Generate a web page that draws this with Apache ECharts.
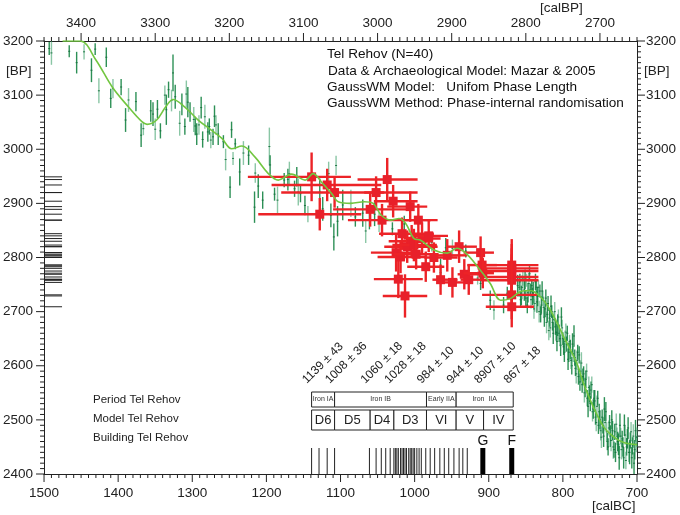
<!DOCTYPE html>
<html><head><meta charset="utf-8">
<script src="https://cdn.jsdelivr.net/npm/echarts@6/dist/echarts.min.js"></script>
<style>html,body{margin:0;padding:0;background:#fff}#c{width:680px;height:515px}</style>
</head><body><div id="c"></div>
<script>
// ---- calibration data (IntCal raw measurements): calBC, BP, 1-sigma ----
const greenBC = [1493,1490,1466,1456,1446,1436,1431,1426,1416,1410,1407,1396,1390,1386,1376,1369,1366,1356,1353,1350,1347,1343,1337,1335,1332,1328,1326,1323,1317,1314,1310,1308,1306,1303,1298,1296,1294,1291,1288,1286,1283,1279,1277,1275,1272,1270,1268,1265,1258,1255,1249,1247,1245,1242,1236,1231,1224,1216,1215,1211,1205,1196,1195,1189,1185,1176,1171,1169,1162,1159,1157,1154,1148,1144,1128,1124,1116,1113,1109,1106,1104,1097,1086,1080,1070,1066,1061,1054,1048,1030,1014,977,965,958,949,931,927,915,911,898,893,880,875,859,
858,856,854,852,850,849,847,845,843,842,840,838,836,834,832,831,829,827,825,824,822,820,818,817,815,813,812,810,808,806,805,803,801,800,798,796,795,793,791,790,788,786,785,783,781,779,778,776,774,772,771,769,767,765,763,762,760,758,756,754,752,751,749,747,745,743,742,740,738,736,734,732,730,729,727,725,723,721,720,718,716,714,712,711,709,707,705,703,702,701,
861,857,855,851,848,846,844,841,839,837,835,833,830,828,826,823,821,819,816,814,811,809,807,804,802,799,797,794,792,789,787,784,782,780,777,775,773,770,768,766,764,761,759,757,755,753,750,748,746,744,741,739,737,735,733,731,728,726,724,722,719,717,715,713,710,708,706,704,700];
const greenBP = [3186,3178,3181,3160,3180,3146,3185,3108,3170,3094,3112,3115,3054,3091,3088,3026,3038,3071,3065,3037,3074,3034,3100,3073,3110,3090,3141,3097,3048,3083,3042,3102,3087,3069,3055,3043,3028,3045,3077,3018,3060,3032,3042,3017,3023,3061,3045,3028,3014,2981,2930,3036,2983,3010,2958,2993,2989,2893,2956,2932,2906,3005,2971,2917,2906,2943,2944,2955,2927,2949,2921,2918,2896,2880,2921,2890,2955,2878,2838,2970,2867,2897,2900,2875,2882,2849,2870,2880,2865,2853,2862,2828,2772,2818,2817,2812,2776,2762,2752,2721,2703,2712,2734,2745,
2755,2730,2762,2740,2725,2758,2735,2770,2722,2748,2735,2715,2745,2728,2700,2738,2712,2725,2690,2705,2680,2715,2688,2670,2700,2660,2685,2672,2645,2690,2660,2638,2670,2650,2625,2662,2640,2612,2645,2630,2600,2622,2655,2595,2610,2580,2620,2590,2565,2585,2550,2575,2540,2560,2530,2555,2515,2540,2505,2525,2490,2515,2480,2505,2470,2495,2515,2460,2485,2470,2500,2450,2478,2440,2470,2455,2490,2445,2465,2430,2472,2450,2485,2440,2462,2430,2470,2445,2480,2455,
2748,2722,2745,2760,2712,2752,2740,2728,2705,2755,2718,2745,2695,2738,2708,2725,2695,2665,2710,2680,2700,2662,2675,2650,2690,2635,2645,2660,2625,2610,2640,2615,2585,2625,2570,2605,2580,2560,2590,2525,2548,2565,2520,2535,2495,2540,2500,2468,2490,2520,2478,2450,2495,2462,2480,2445,2492,2460,2430,2470,2450,2490,2425,2465,2440,2478,2452,2420,2468];
const greenErr = [12,22,11,20,14,22,11,23,18,18,18,15,22,22,18,22,12,20,22,20,17,14,18,28,15,20,34,22,23,20,15,25,28,18,23,17,20,18,20,15,22,18,15,15,15,20,18,20,12,20,20,15,12,10,25,22,18,29,18,22,16,35,18,12,25,13,20,22,15,18,25,16,18,15,25,22,22,22,25,18,28,28,25,18,25,22,18,22,18,12,15,17,26,18,16,12,12,12,12,18,18,15,12,18,
15,18,14,20,15,12,18,14,16,12,20,15,14,18,20,12,16,14,18,15,20,14,16,18,12,20,15,15,18,14,16,20,15,12,18,16,14,20,12,18,16,15,20,14,18,15,16,20,15,14,18,16,15,20,14,16,18,15,14,20,16,15,18,14,20,15,18,16,14,20,18,22,15,18,16,20,22,18,15,20,18,16,20,18,15,20,22,18,20,15,
20,15,22,18,15,20,12,16,18,15,20,14,15,18,20,16,14,18,20,15,18,16,20,14,18,15,20,14,18,16,20,15,18,14,16,20,15,18,14,20,16,15,18,20,16,14,18,20,15,22,18,16,14,20,18,15,20,18,22,15,18,20,16,18,22,18,16,20,18];

// ---- calibration curve (smoothed) ----
const curveBC = [1475,1451,1430,1408,1386,1368,1361,1348,1336,1326,1310,1292,1274,1260,1247,1233,1215,1198,1184,1166,1148,1137,1126,1112,1103,1086,1068,1056,1045,1032,1021,1012,1001,992,974,956,943,931,915,898,884,871,857,844,830,817,799,781,772,759,745,732,718,700];
const curveBP = [3200,3200,3165,3115,3078,3051,3046,3054,3078,3092,3078,3054,3035,3020,3001,3006,2985,2956,2943,2954,2943,2955,2940,2918,2903,2900,2903,2900,2878,2869,2872,2863,2835,2832,2814,2808,2817,2808,2783,2752,2721,2724,2737,2739,2727,2703,2654,2604,2567,2524,2487,2469,2458,2454];

// ---- Tel Rehov dates: modelled calBC, BP, range (older, younger), BP error ----
const redBC  = [1139,1128,1118,1108,1060,1052,1044,1037,1029,1025,1022,1019,1017,1013,1010,1006,1004,1001,998,995,990,981,974,965,956,949,940,933,927,911,909,908,869,869,869,869,869,869,869,985];
const redBP  = [2949,2880,2934,2920,2889,2920,2869,2944,2904,2809,2760,2801,2844,2729,2820,2894,2830,2823,2806,2869,2835,2840,2800,2759,2804,2754,2820,2769,2759,2809,2786,2771,2786,2780,2775,2764,2758,2731,2709,2783];
const redOld = [1225,1211,1193,1180,1110,1068,1090,1077,1055,1059,1055,1050,1048,1043,1041,1037,1035,1030,1028,1018,1015,1005,987,976,971,960,956,942,938,934,929,934,907,907,907,907,907,909,904,1010];
const redYoung=[1086,1072,1045,1041,1007,996,978,996,996,992,989,985,974,983,969,983,975,970,968,969,965,955,942,942,929,929,916,906,906,893,889,893,833,833,833,833,833,835,839,960];
const redErr = [45,30,30,28,32,30,30,40,30,35,35,30,30,40,30,28,30,30,28,30,30,30,28,28,30,28,30,28,28,30,30,28,48,45,42,42,42,45,38,28];

// ---- archaeological model ----
const boundaryBC = [1139,1108,1060,1028,984,944,907,867];
const boundaryLabels = ['1139 \u00b1 43','1008 \u00b1 36','1060 \u00b1 18','1028 \u00b1 18','984 \u00b1 10','944 \u00b1 10','8907 \u00b1 10','867 \u00b1 18'];
const periodNames = ['Iron IA','Iron IB','Early IIA','Iron  IIA'];
const periodStart = [1139,1108,984,944];
const periodEnd   = [1108,984,944,867];
const modelNames = ['D6','D5','D4','D3','VI','V','IV'];
const modelStart = [1139,1108,1060,1028,984,944,907];
const modelEnd   = [1108,1060,1028,984,944,907,867];
const buildingBC = [1139,1129,1118,1108,1061,1052,1045,1039,1033,1028,1026,1024,1022,1019,1017,1015,1013,1011,1008,1006,1004,1002,1000,997,994,991,985,979,973,966,960,954,947,940,935,929];
const buildingLetters = ['G','F'];
const buildingLetterBC = [908,869];

// ---- axis labels / ticks ----
const calBPLabels = [3400,3300,3200,3100,3000,2900,2800,2700];
const BC_MIN = 700, BC_MAX = 1500, BP_MIN = 2400, BP_MAX = 3200, TICK_STEP = 10;
const xTickValues = [];
for (let v = BC_MIN; v <= BC_MAX; v += TICK_STEP) xTickValues.push(v);
const yTickValues = [];
for (let v = BP_MIN; v <= BP_MAX; v += TICK_STEP) yTickValues.push(v);

const FONT = '"Liberation Sans", Arial, sans-serif';
const chart = echarts.init(document.getElementById('c'));

function axisDef(pos, min, max, interval, inverse, margin, fmt){
  return {
    type:'value', position:pos, min:min, max:max, interval:interval, inverse:inverse,
    axisLine:{show:true,lineStyle:{color:'#222',width:1}},
    axisTick:{show:false},
    minorTick:{show:false},
    splitLine:{show:false},
    minorSplitLine:{show:false},
    axisLabel:{fontFamily:FONT,fontSize:13.5,color:'#222',margin:margin,formatter:fmt||(v=>String(v))}
  };
}

const TICK = {stroke:'#222',lineWidth:1};

const option = {
  animation:false,
  backgroundColor:'#fff',
  grid:{left:42,right:43,top:41,bottom:41},
  xAxis:[
    axisDef('bottom',BC_MIN,BC_MAX,100,true,12),
    axisDef('top',2650,3450,50,true,11,v=>(calBPLabels.indexOf(v)>=0?String(v):''))
  ],
  yAxis:[
    axisDef('left',BP_MIN,BP_MAX,100,false,11),
    axisDef('right',BP_MIN,BP_MAX,100,false,9)
  ],
  graphic:[
    {type:'text',left:327,top:47,style:{text:'Tel Rehov (N=40)',font:'13.6px '+FONT,fill:'#111'}},
    {type:'text',left:328,top:64,style:{text:'Data & Archaeological Model: Mazar & 2005',font:'13.6px '+FONT,fill:'#111'}},
    {type:'text',left:327,top:80,style:{text:'GaussWM Model:   Unifom Phase Length',font:'13.6px '+FONT,fill:'#111'}},
    {type:'text',left:327,top:96,style:{text:'GaussWM Method: Phase-internal randomisation',font:'13.6px '+FONT,fill:'#111'}},
    {type:'text',left:540,top:1,style:{text:'[calBP]',font:'13.5px '+FONT,fill:'#222'}},
    {type:'text',left:592,top:499,style:{text:'[calBC]',font:'13.5px '+FONT,fill:'#222'}},
    {type:'text',left:6,top:64,style:{text:'[BP]',font:'13.5px '+FONT,fill:'#222'}},
    {type:'text',left:644,top:64,style:{text:'[BP]',font:'13.5px '+FONT,fill:'#222'}},
    {type:'text',left:93,top:394,style:{text:'Period Tel Rehov',font:'11.5px '+FONT,fill:'#222'}},
    {type:'text',left:93,top:413,style:{text:'Model Tel Rehov',font:'11.5px '+FONT,fill:'#222'}},
    {type:'text',left:93,top:432,style:{text:'Building Tel Rehov',font:'11.5px '+FONT,fill:'#222'}}
  ],
  series:[
    { // x-axis ticks (bottom calBC, top calBP = calBC + 1950)
      type:'custom', xAxisIndex:0, yAxisIndex:0, clip:false, z:1, silent:true,
      data: xTickValues.map(v=>[v, BP_MIN]),
      renderItem:function(params, api){
        const v=api.value(0);
        const b=api.coord([v,BP_MIN]), t=api.coord([v,BP_MAX]);
        const lb=(v%100===0)?8:4;
        const bp=v+1950;
        const lt=(bp%100===0 && bp>=2700 && bp<=3400)?8:4;
        return {type:'group',children:[
          {type:'line',shape:{x1:b[0],y1:b[1],x2:b[0],y2:b[1]+lb},style:TICK},
          {type:'line',shape:{x1:t[0],y1:t[1],x2:t[0],y2:t[1]-lt},style:TICK}
        ]};
      }
    },
    { // y-axis ticks (left and right BP)
      type:'custom', xAxisIndex:0, yAxisIndex:0, clip:false, z:1, silent:true,
      data: yTickValues.map(v=>[BC_MAX, v]),
      renderItem:function(params, api){
        const v=api.value(1);
        const l=api.coord([BC_MAX,v]), r=api.coord([BC_MIN,v]);
        const len=(v%100===0)?8:4;
        return {type:'group',children:[
          {type:'line',shape:{x1:l[0],y1:l[1],x2:l[0]-len,y2:l[1]},style:TICK},
          {type:'line',shape:{x1:r[0],y1:r[1],x2:r[0]+len,y2:r[1]},style:TICK}
        ]};
      }
    },
    { // raw calibration measurements
      type:'custom', xAxisIndex:0, yAxisIndex:0, clip:true, z:2,
      data: greenBC.map((x,i)=>[x, greenBP[i], greenErr[i]]),
      renderItem:function(params, api){
        const x=api.value(0), y=api.value(1), e=api.value(2);
        const a=api.coord([x,y+e]), b=api.coord([x,y-e]), c=api.coord([x,y]);
        const light = (params.dataIndex % 3 === 1);
        return {type:'group',children:[
          {type:'line',shape:{x1:a[0],y1:a[1],x2:b[0],y2:b[1]},style:{stroke: light?'rgba(60,160,105,0.6)':'rgba(22,132,68,0.9)',lineWidth:1.4}},
          {type:'line',shape:{x1:c[0]-1,y1:c[1],x2:c[0]+1,y2:c[1]},style:{stroke:'rgba(20,110,60,0.9)',lineWidth:1}}
        ]};
      }
    },
    { // dates
      type:'custom', xAxisIndex:0, yAxisIndex:0, clip:true, z:3,
      data: redBC.map((x,i)=>[x, redBP[i], redOld[i], redYoung[i], redErr[i]]),
      renderItem:function(params, api){
        const x=api.value(0), y=api.value(1), o=api.value(2), yg=api.value(3), e=api.value(4);
        const c=api.coord([x,y]), l=api.coord([o,y]), r=api.coord([yg,y]), t=api.coord([x,y+e]), b=api.coord([x,y-e]);
        const s=9;
        return {type:'group',children:[
          {type:'line',shape:{x1:l[0],y1:l[1],x2:r[0],y2:r[1]},style:{stroke:'#ec2327',lineWidth:2.4}},
          {type:'line',shape:{x1:t[0],y1:t[1],x2:b[0],y2:b[1]},style:{stroke:'#ec2327',lineWidth:2.4}},
          {type:'rect',shape:{x:c[0]-s/2,y:c[1]-s/2,width:s,height:s},style:{fill:'#e8202a'}}
        ]};
      }
    },
    { // BP histogram ticks at left
      type:'custom', xAxisIndex:0, yAxisIndex:0, clip:false, z:3,
      data: redBP.map(v=>[BC_MAX, v]),
      renderItem:function(params, api){
        const p=api.coord([api.value(0),api.value(1)]);
        return {type:'line',shape:{x1:p[0],y1:p[1],x2:p[0]+18,y2:p[1]},style:{stroke:'#222',lineWidth:1}};
      }
    },
    { // smoothed calibration curve
      type:'line', xAxisIndex:0, yAxisIndex:0, z:4, smooth:0.35, showSymbol:false, clip:true,
      data: curveBC.map((x,i)=>[x, curveBP[i]]),
      lineStyle:{color:'#72c640',width:1.6}
    },
    { // period row
      type:'custom', xAxisIndex:0, yAxisIndex:0, clip:false, z:5,
      data: periodStart.map((x,i)=>[x, periodEnd[i]]),
      renderItem:function(params, api){
        const a=api.coord([api.value(0),BP_MIN])[0], b=api.coord([api.value(1),BP_MIN])[0];
        return {type:'group',children:[
          {type:'rect',shape:{x:a,y:392,width:b-a,height:15},style:{fill:'#fff',stroke:'#222',lineWidth:1}},
          {type:'text',x:(a+b)/2,y:399.5,style:{text:periodNames[params.dataIndex],font:'7px '+FONT,fill:'#333',textAlign:'center',textVerticalAlign:'middle'}}
        ]};
      }
    },
    { // model row
      type:'custom', xAxisIndex:0, yAxisIndex:0, clip:false, z:5,
      data: modelStart.map((x,i)=>[x, modelEnd[i]]),
      renderItem:function(params, api){
        const a=api.coord([api.value(0),BP_MIN])[0], b=api.coord([api.value(1),BP_MIN])[0];
        return {type:'group',children:[
          {type:'rect',shape:{x:a,y:410,width:b-a,height:20},style:{fill:'#fff',stroke:'#222',lineWidth:1}},
          {type:'text',x:(a+b)/2,y:420,style:{text:modelNames[params.dataIndex],font:'13px '+FONT,fill:'#222',textAlign:'center',textVerticalAlign:'middle'}}
        ]};
      }
    },
    { // boundary labels
      type:'custom', xAxisIndex:0, yAxisIndex:0, clip:false, z:5,
      data: boundaryBC.map(x=>[x, BP_MIN]),
      renderItem:function(params, api){
        const a=api.coord([api.value(0),BP_MIN])[0];
        return {type:'text',x:a-3,y:386,rotation:Math.PI/4,style:{text:boundaryLabels[params.dataIndex],font:'12px '+FONT,fill:'#222',textAlign:'left',textVerticalAlign:'bottom'}};
      }
    },
    { // building dates
      type:'custom', xAxisIndex:0, yAxisIndex:0, clip:false, z:5,
      data: buildingBC.map(x=>[x, BP_MIN]),
      renderItem:function(params, api){
        const p=api.coord([api.value(0),BP_MIN]);
        return {type:'line',shape:{x1:p[0],y1:p[1],x2:p[0],y2:p[1]-26},style:{stroke:'#222',lineWidth:1}};
      }
    },
    { // buildings G and F
      type:'custom', xAxisIndex:0, yAxisIndex:0, clip:false, z:5,
      data: buildingLetterBC.map(x=>[x, BP_MIN]),
      renderItem:function(params, api){
        const p=api.coord([api.value(0),BP_MIN]);
        return {type:'group',children:[
          {type:'rect',shape:{x:p[0]-2.5,y:p[1]-26,width:5,height:26},style:{fill:'#000'}},
          {type:'text',x:p[0],y:p[1]-33,style:{text:buildingLetters[params.dataIndex],font:'14px '+FONT,fill:'#111',textAlign:'center',textVerticalAlign:'middle'}}
        ]};
      }
    }
  ]
};
chart.setOption(option);
</script></body></html>
